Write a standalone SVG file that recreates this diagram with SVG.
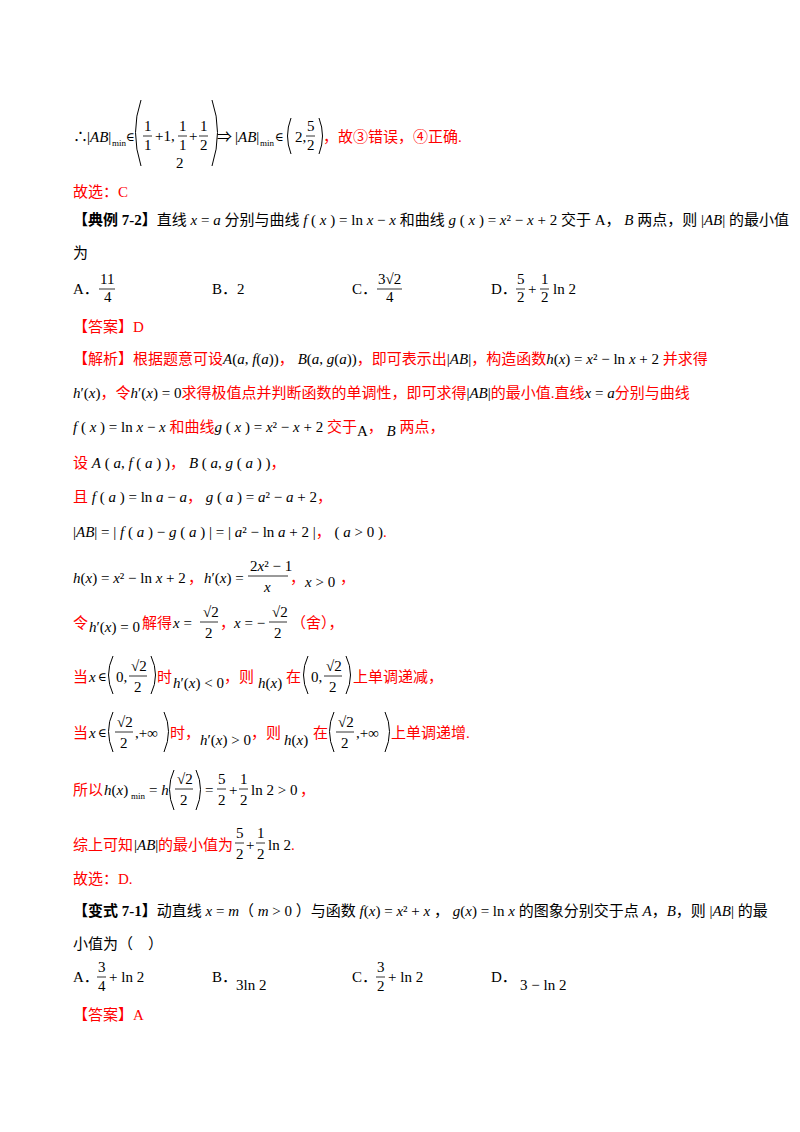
<svg xmlns="http://www.w3.org/2000/svg" width="800" height="1132" viewBox="0 0 800 1132">
<style>
text{font-family:"Liberation Serif","Noto Sans CJK SC",serif;font-size:15px;fill:#000}
.r{fill:#f00}
.i{font-style:italic}
.b{font-weight:bold}
.s{font-size:9px}
.e{font-family:"DejaVu Serif",serif;font-size:12px}
.p{fill:none;stroke:#000;stroke-width:1}
.fl{stroke:#000;stroke-width:0.8}
</style>
<rect width="800" height="1132" fill="#fff"/>
<!-- line 1 -->
<text x="73" y="142">∴</text>
<text x="87" y="142">|<tspan class="i">AB</tspan>|</text><text class="s" x="112" y="146">min</text><text class="e" x="126" y="141">∈</text>
<path class="p" d="M141 100 Q130 132 141 166"/>
<text x="144" y="131">1</text><line class="fl" x1="143" y1="136" x2="152" y2="136"/><text x="144" y="150">1</text>
<text x="155" y="141">+1,</text>
<text x="179" y="131">1</text><line class="fl" x1="178" y1="136" x2="187" y2="136"/><text x="179" y="150">1</text>
<text x="189" y="141">+</text>
<text x="200" y="131">1</text><line class="fl" x1="199" y1="136" x2="208" y2="136"/><text x="200" y="150">2</text>
<text x="176" y="168">2</text>
<path class="p" d="M212 100 Q223 132 212 166"/>
<text x="217" y="142">⇒</text>
<text x="235" y="142">|<tspan class="i">AB</tspan>|</text><text class="s" x="260" y="146">min</text><text class="e" x="275" y="141">∈</text>
<path class="p" d="M291 118 Q284 136 291 154"/>
<text x="295" y="142">2,</text>
<text x="307" y="131">5</text><line class="fl" x1="306" y1="136" x2="315" y2="136"/><text x="307" y="150">2</text>
<path class="p" d="M319 118 Q326 136 319 154"/>
<text class="r" x="323" y="142">，故③错误，④正确.</text>
<text class="r" x="73" y="197">故选：C</text>
<!-- 典例 -->
<text x="73" y="225"><tspan class="b">【典例 7-2】</tspan>直线 <tspan class="i">x</tspan> = <tspan class="i">a</tspan> 分别与曲线 <tspan class="i">f</tspan> ( <tspan class="i">x</tspan> ) = ln <tspan class="i">x</tspan> − <tspan class="i">x</tspan> 和曲线 <tspan class="i">g</tspan> ( <tspan class="i">x</tspan> ) = <tspan class="i">x</tspan>² − <tspan class="i">x</tspan> + 2 交于 A， <tspan class="i">B</tspan> 两点，则 |<tspan class="i">AB</tspan>| 的最小值</text>
<text x="73" y="258">为</text>
<text x="73" y="294">A．</text>
<text x="100" y="284">11</text><line class="fl" x1="99" y1="289" x2="115" y2="289"/><text x="104" y="302">4</text>
<text x="212" y="294">B．2</text>
<text x="352" y="294">C．</text>
<text x="378" y="284">3√2</text><line class="fl" x1="377" y1="289" x2="402" y2="289"/><text x="386" y="302">4</text>
<text x="491" y="294">D．</text>
<text x="517" y="284">5</text><line class="fl" x1="516" y1="289" x2="525" y2="289"/><text x="517" y="302">2</text>
<text x="528" y="294">+</text>
<text x="541" y="284">1</text><line class="fl" x1="540" y1="289" x2="549" y2="289"/><text x="541" y="302">2</text>
<text x="553" y="294">ln 2</text>
<!-- answer -->
<text class="r" x="73" y="332">【答案】D</text>
<text class="r" x="73" y="364">【解析】根据题意可设<tspan fill="#000"><tspan class="i">A</tspan>(<tspan class="i">a</tspan>, <tspan class="i">f</tspan>(<tspan class="i">a</tspan>))</tspan>， <tspan fill="#000"><tspan class="i">B</tspan>(<tspan class="i">a</tspan>, <tspan class="i">g</tspan>(<tspan class="i">a</tspan>))</tspan>，即可表示出<tspan fill="#000">|<tspan class="i">AB</tspan>|</tspan>，构造函数<tspan fill="#000"><tspan class="i">h</tspan>(<tspan class="i">x</tspan>) = <tspan class="i">x</tspan>² − ln <tspan class="i">x</tspan> + 2</tspan> 并求得</text>
<text class="r" x="73" y="398"><tspan fill="#000"><tspan class="i">h</tspan>′(<tspan class="i">x</tspan>)</tspan>，令<tspan fill="#000"><tspan class="i">h</tspan>′(<tspan class="i">x</tspan>) = 0</tspan>求得极值点并判断函数的单调性，即可求得<tspan fill="#000">|<tspan class="i">AB</tspan>|</tspan>的最小值.直线<tspan fill="#000"><tspan class="i">x</tspan> = <tspan class="i">a</tspan></tspan>分别与曲线</text>
<text class="r" x="73" y="432"><tspan fill="#000"><tspan class="i">f</tspan> ( <tspan class="i">x</tspan> ) = ln <tspan class="i">x</tspan> − <tspan class="i">x</tspan></tspan> 和曲线<tspan fill="#000"><tspan class="i">g</tspan> ( <tspan class="i">x</tspan> ) = <tspan class="i">x</tspan>² − <tspan class="i">x</tspan> + 2</tspan> 交于<tspan fill="#000" dy="4">A</tspan><tspan dy="-4">，</tspan><tspan fill="#000" class="i" dy="4"> B</tspan><tspan dy="-4"> 两点，</tspan></text>
<text class="r" x="73" y="468">设 <tspan fill="#000"><tspan class="i">A</tspan> ( <tspan class="i">a</tspan>, <tspan class="i">f</tspan> ( <tspan class="i">a</tspan> ) )</tspan>， <tspan fill="#000"><tspan class="i">B</tspan> ( <tspan class="i">a</tspan>, <tspan class="i">g</tspan> ( <tspan class="i">a</tspan> ) )</tspan>，</text>
<text class="r" x="73" y="502">且 <tspan fill="#000"><tspan class="i">f</tspan> ( <tspan class="i">a</tspan> ) = ln <tspan class="i">a</tspan> − <tspan class="i">a</tspan></tspan>， <tspan fill="#000"><tspan class="i">g</tspan> ( <tspan class="i">a</tspan> ) = <tspan class="i">a</tspan>² − <tspan class="i">a</tspan> + 2</tspan>，</text>
<text class="r" x="73" y="537"><tspan fill="#000">|<tspan class="i">AB</tspan>| = | <tspan class="i">f</tspan> ( <tspan class="i">a</tspan> ) − <tspan class="i">g</tspan> ( <tspan class="i">a</tspan> ) | = | <tspan class="i">a</tspan>² − ln <tspan class="i">a</tspan> + 2 |</tspan>， <tspan fill="#000">( <tspan class="i">a</tspan> &gt; 0 )</tspan>.</text>
<text x="73" y="583"><tspan class="i">h</tspan>(<tspan class="i">x</tspan>) = <tspan class="i">x</tspan>² − ln <tspan class="i">x</tspan> + 2</text><text class="r" x="188" y="583">，</text>
<text x="204" y="583"><tspan class="i">h</tspan>′(<tspan class="i">x</tspan>) =</text>
<text x="250" y="571">2<tspan class="i">x</tspan>² − 1</text><line class="fl" x1="248" y1="576" x2="288" y2="576"/><text class="i" x="264" y="592">x</text>
<text class="r" x="290" y="583">，</text>
<text x="305" y="587"><tspan class="i">x</tspan> &gt; 0</text><text class="r" x="340" y="583">，</text>
<!-- 令 -->
<text class="r" x="73" y="628">令</text><text x="89" y="632"><tspan class="i">h</tspan>′(<tspan class="i">x</tspan>) = 0</text>
<text class="r" x="142" y="628">解得</text><text x="173" y="628"><tspan class="i">x</tspan> =</text>
<text x="203" y="617">√2</text><line class="fl" x1="200" y1="622" x2="218" y2="622"/><text x="205" y="638">2</text>
<text class="r" x="220" y="628">，</text><text x="234" y="628"><tspan class="i">x</tspan> = −</text>
<text x="272" y="617">√2</text><line class="fl" x1="269" y1="622" x2="287" y2="622"/><text x="274" y="638">2</text>
<text class="r" x="291" y="628">（舍），</text>
<!-- 当 1 -->
<text class="r" x="73" y="682">当</text><text x="89" y="682"><tspan class="i">x</tspan></text><text class="e" x="98" y="681">∈</text>
<path class="p" d="M113 656 Q104 675 113 694"/>
<text x="116" y="682">0,</text>
<text x="131" y="671">√2</text><line class="fl" x1="129" y1="676" x2="147" y2="676"/><text x="134" y="692">2</text>
<path class="p" d="M151 656 Q160 675 151 694"/>
<text class="r" x="157" y="682">时</text>
<text x="173" y="688"><tspan class="i">h</tspan>′(<tspan class="i">x</tspan>) &lt; 0</text>
<text class="r" x="224" y="682">，则</text>
<text x="258" y="688"><tspan class="i">h</tspan>(<tspan class="i">x</tspan>)</text>
<text class="r" x="286" y="682">在</text>
<path class="p" d="M308 656 Q299 675 308 694"/>
<text x="311" y="682">0,</text>
<text x="326" y="671">√2</text><line class="fl" x1="324" y1="676" x2="342" y2="676"/><text x="329" y="692">2</text>
<path class="p" d="M346 656 Q355 675 346 694"/>
<text class="r" x="353" y="682">上单调递减，</text>
<!-- 当 2 -->
<text class="r" x="73" y="738">当</text><text x="89" y="738"><tspan class="i">x</tspan></text><text class="e" x="98" y="737">∈</text>
<path class="p" d="M113 712 Q104 731 113 752"/>
<text x="117" y="727">√2</text><line class="fl" x1="115" y1="732" x2="133" y2="732"/><text x="120" y="748">2</text>
<text x="135" y="738">,+∞</text>
<path class="p" d="M164 712 Q173 731 164 752"/>
<text class="r" x="170" y="738">时，</text>
<text x="200" y="745"><tspan class="i">h</tspan>′(<tspan class="i">x</tspan>) &gt; 0</text>
<text class="r" x="251" y="738">，则</text>
<text x="284" y="745"><tspan class="i">h</tspan>(<tspan class="i">x</tspan>)</text>
<text class="r" x="313" y="738">在</text>
<path class="p" d="M334 712 Q325 731 334 752"/>
<text x="338" y="727">√2</text><line class="fl" x1="336" y1="732" x2="354" y2="732"/><text x="341" y="748">2</text>
<text x="356" y="738">,+∞</text>
<path class="p" d="M385 712 Q394 731 385 752"/>
<text class="r" x="391" y="738">上单调递增.</text>
<!-- 所以 -->
<text class="r" x="73" y="795">所以</text><text x="104" y="795"><tspan class="i">h</tspan>(<tspan class="i">x</tspan>)</text><text class="s" x="131" y="799">min</text><text x="149" y="795">= <tspan class="i">h</tspan></text>
<path class="p" d="M174 770 Q165 789 174 810"/>
<text x="177" y="784">√2</text><line class="fl" x1="175" y1="789" x2="193" y2="789"/><text x="180" y="805">2</text>
<path class="p" d="M196 770 Q205 789 196 810"/>
<text x="205" y="795">=</text>
<text x="218" y="784">5</text><line class="fl" x1="217" y1="789" x2="226" y2="789"/><text x="218" y="805">2</text>
<text x="229" y="795">+</text>
<text x="240" y="784">1</text><line class="fl" x1="239" y1="789" x2="248" y2="789"/><text x="240" y="805">2</text>
<text x="251" y="795">ln 2 &gt; 0</text><text class="r" x="300" y="795">，</text>
<text class="r" x="73" y="850">综上可知</text><text x="134" y="850">|<tspan class="i">AB</tspan>|</text><text class="r" x="158" y="850">的最小值为</text>
<text x="236" y="838">5</text><line class="fl" x1="235" y1="843" x2="244" y2="843"/><text x="236" y="859">2</text>
<text x="246" y="850">+</text>
<text x="257" y="838">1</text><line class="fl" x1="256" y1="843" x2="265" y2="843"/><text x="257" y="859">2</text>
<text x="268" y="850">ln 2</text><text class="r" x="291" y="850">.</text>
<text class="r" x="73" y="884">故选：D.</text>
<!-- 变式 -->
<text x="73" y="916"><tspan class="b">【变式 7-1】</tspan>动直线 <tspan class="i">x</tspan> = <tspan class="i">m</tspan>（ <tspan class="i">m</tspan> &gt; 0 ）与函数 <tspan class="i">f</tspan>(<tspan class="i">x</tspan>) = <tspan class="i">x</tspan>² + <tspan class="i">x</tspan> ， <tspan class="i">g</tspan>(<tspan class="i">x</tspan>) = ln <tspan class="i">x</tspan> 的图象分别交于点 <tspan class="i">A</tspan>，<tspan class="i">B</tspan>，则 |<tspan class="i">AB</tspan>| 的最</text>
<text x="73" y="949">小值为（　）</text>
<text x="73" y="982">A．</text>
<text x="98" y="972">3</text><line class="fl" x1="97" y1="977" x2="106" y2="977"/><text x="98" y="991">4</text>
<text x="109" y="982">+ ln 2</text>
<text x="212" y="982">B．</text><text x="236" y="990">3ln 2</text>
<text x="352" y="982">C．</text>
<text x="377" y="972">3</text><line class="fl" x1="376" y1="977" x2="385" y2="977"/><text x="377" y="991">2</text>
<text x="388" y="982">+ ln 2</text>
<text x="491" y="982">D．</text><text x="520" y="990">3 − ln 2</text>
<text class="r" x="73" y="1020">【答案】A</text>
</svg>
